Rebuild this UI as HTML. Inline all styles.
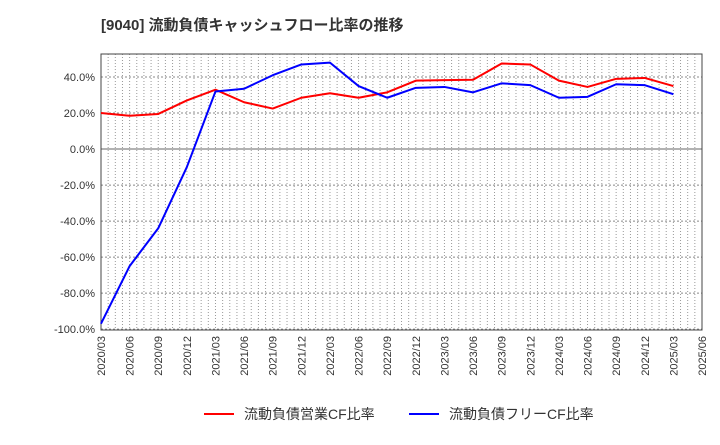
<!DOCTYPE html>
<html><head><meta charset="utf-8"><style>
body{margin:0;background:#fff;width:720px;height:440px;overflow:hidden;font-family:"Liberation Sans","Noto Sans CJK JP",sans-serif}
</style></head><body>
<svg id="c" width="720" height="440" xmlns="http://www.w3.org/2000/svg">
<text x="101" y="30" font-size="15" font-weight="bold" fill="#333" font-family="Liberation Sans, Noto Sans CJK JP, sans-serif">[9040]  流動負債キャッシュフロー比率の推移</text>
</svg>
<script>
const categories=["2020/03","2020/06","2020/09","2020/12","2021/03","2021/06","2021/09","2021/12","2022/03","2022/06","2022/09","2022/12","2023/03","2023/06","2023/09","2023/12","2024/03","2024/06","2024/09","2024/12","2025/03","2025/06"];
const operatingCF=[20,18.5,19.5,27,33,26,22.5,28.5,31,28.5,31.5,38,38.3,38.5,47.5,47,38,34.5,39,39.5,35];
const freeCF=[-97,-65,-44,-10,32,33.5,41,47,48,35,28.5,34,34.5,31.5,36.5,35.5,28.5,29,36,35.5,30.5];
const yTicks=[40,20,0,-20,-40,-60,-80,-100];
const yMin=-100.5,yMax=52.8;
const L=101,R=702,T=54,B=330;
const svg=document.getElementById('c');
const NS="http://www.w3.org/2000/svg";
const xs=i=>L+(R-L)*i/(categories.length-1);
const ys=v=>B-(v-yMin)/(yMax-yMin)*(B-T);
function mk(t,a){const e=document.createElementNS(NS,t);for(const k in a)e.setAttribute(k,a[k]);svg.appendChild(e);return e;}
// vertical grid
const nv=84;
for(let i=1;i<nv;i++){const x=L+(R-L)*i/nv;const g=mk('line',{x1:x,x2:x,y1:T,y2:B,stroke:'#999','stroke-dasharray':'1,2','stroke-width':1});

}
yTicks.forEach(v=>{const y=ys(v);
const g=mk('line',{x1:L,x2:R,y1:y,y2:y,stroke:v===0?'#666':'#888','stroke-dasharray':v===0?'':'2,2','stroke-width':1});


const t=mk('text',{x:L-6,y:y+4,'text-anchor':'end','font-size':11,fill:'#333'});t.textContent=v.toFixed(1)+'%';

});
const fr=mk('rect',{x:L,y:T,width:R-L,height:B-T,fill:'none',stroke:'#444','stroke-width':1});


categories.forEach((c,i)=>{const x=xs(i);const t=mk('text',{x:0,y:0,'text-anchor':'end','font-size':11,fill:'#333',transform:`translate(${x+4},${B+6}) rotate(-90)`});t.textContent=c;

});
function series(d,col,name){const p=mk('polyline',{points:d.map((v,i)=>xs(i)+','+ys(v)).join(' '),fill:'none',stroke:col,'stroke-width':2,'stroke-linejoin':'round'});

}
series(operatingCF,'#ff0000','operating-cf-ratio-line');
series(freeCF,'#0000ff','free-cf-ratio-line');
// legend
function leg(x,col,label,name){const l=mk('line',{x1:x,x2:x+30,y1:414,y2:414,stroke:col,'stroke-width':2});


const t=mk('text',{x:x+40,y:419,'font-size':14,fill:'#333'});t.textContent=label;

}
leg(204,'#ff0000','流動負債営業CF比率','legend-operating-cf');
leg(409,'#0000ff','流動負債フリーCF比率','legend-free-cf');
</script>
</body></html>
